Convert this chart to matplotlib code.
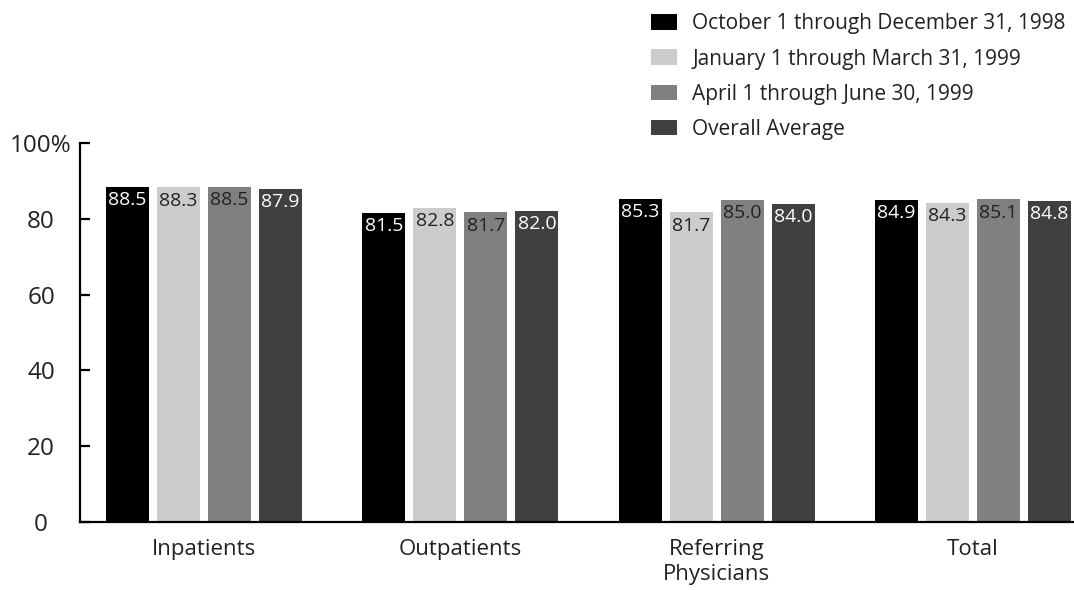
import matplotlib.pyplot as plt
import numpy as np
from matplotlib.patches import Patch

plt.rcParams['font.family'] = ['Open Sans', 'DejaVu Sans']

# survey groups and quarterly satisfaction scores (%)
groups = ['Inpatients', 'Outpatients', 'Referring\nPhysicians', 'Total']
periods = ['October 1 through December 31, 1998',
           'January 1 through March 31, 1999',
           'April 1 through June 30, 1999',
           'Overall Average']
q4_1998 = [88.5, 81.5, 85.3, 84.9]
q1_1999 = [88.3, 82.8, 81.7, 84.3]
q2_1999 = [88.5, 81.7, 85.0, 85.1]
overall = [87.9, 82.0, 84.0, 84.8]
yticks = [0, 20, 40, 60, 80, 100]
ytick_labels = ['0', '20', '40', '60', '80', '100%']

series = [q4_1998, q1_1999, q2_1999, overall]
colors = ['#000000', '#cccccc', '#808080', '#404040']
text_colors = ['white', '#222222', '#222222', 'white']

fig = plt.figure(figsize=(10.74, 5.90), dpi=100)
ax = fig.add_axes([80/1074, 68/590, 1 - 80/1074, 379/590])

x = np.arange(len(groups))
step = 0.199
width = 0.168
for i, (vals, col, tcol) in enumerate(zip(series, colors, text_colors)):
    pos = x + (i - 1.5) * step
    ax.bar(pos, vals, width=width, color=col, linewidth=0)
    for px, v in zip(pos, vals):
        ax.annotate(f'{v:.1f}', (px, v), xytext=(0, -3), textcoords='offset points',
                    ha='center', va='top', fontsize=14, color=tcol)

ax.set_xlim(-0.484, 3.394)
ax.set_ylim(0, 100)
ax.spines['top'].set_visible(False)
ax.spines['right'].set_visible(False)
ax.spines['left'].set_linewidth(1.6)
ax.spines['bottom'].set_linewidth(1.6)

ax.set_yticks(yticks)
ax.set_yticklabels(ytick_labels, fontsize=17.5, color='#222222')
ax.tick_params(axis='y', direction='in', length=7, width=1.6, pad=28)
for lab in ax.get_yticklabels():
    lab.set_horizontalalignment('center')

ax.set_xticks(x)
ax.set_xticklabels(groups, fontsize=16, color='#222222', linespacing=1.25)
ax.tick_params(axis='x', length=0, pad=12)

handles = [Patch(facecolor=c, edgecolor='none') for c in colors]
fig.legend(handles, periods, loc='upper left', bbox_to_anchor=(641/1074, 1 - 3/590),
           frameon=False, fontsize=15, handlelength=1.25, handleheight=0.78,
           handletextpad=0.72, labelspacing=0.68, borderpad=0, labelcolor='#222222')

fig.savefig('out.png', dpi=100)
